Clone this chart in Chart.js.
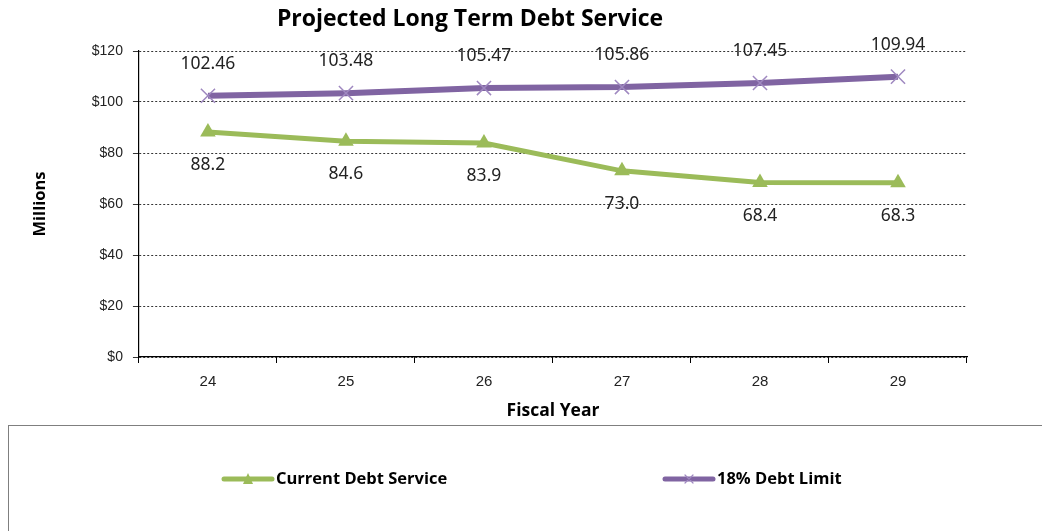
<!DOCTYPE html>
<html>
<head>
<meta charset="utf-8">
<script src="https://cdn.jsdelivr.net/npm/chart.js@4"></script>
<style>
  html, body { margin: 0; padding: 0; background: #fff; }
  #wrap { width: 1042px; height: 531px; }
</style>
</head>
<body>
<div id="wrap"><canvas id="debtChart" width="1042" height="531"></canvas></div>
<script>
// Fiscal years and series values (millions)
const years = ["24", "25", "26", "27", "28", "29"];
const currentDebt = [88.2, 84.6, 83.9, 73.0, 68.4, 68.3];
const debtLimit = [102.46, 103.48, 105.47, 105.86, 107.45, 109.94];
const yTicks = [0, 20, 40, 60, 80, 100, 120];

const green = "#9BBB59";
const purple = "#8064A2";
const labelFont = "17.5px 'Noto Sans', sans-serif";

// value labels above / below the points, title and boxed legend
const extras = {
    id: "extras",
    afterDatasetsDraw(chart) {
        const ctx = chart.ctx;
        ctx.save();
        ctx.font = labelFont;
        ctx.fillStyle = "#222";
        ctx.textAlign = "center";
        ctx.textBaseline = "middle";
        chart.getDatasetMeta(0).data.forEach((pt, i) => {
            ctx.fillText(currentDebt[i].toFixed(1), pt.x, pt.y + 33);
        });
        chart.getDatasetMeta(1).data.forEach((pt, i) => {
            ctx.fillText(debtLimit[i].toFixed(2), pt.x, pt.y - 32);
        });

        // title
        ctx.font = "bold 23px 'Open Sans', sans-serif";
        ctx.fillStyle = "#000";
        ctx.fillText("Projected Long Term Debt Service", 470, 19);

        // legend box
        ctx.strokeStyle = "#7f7f7f";
        ctx.lineWidth = 1;
        ctx.strokeRect(8.5, 425.5, 1040, 110);

        const items = [
            { x: 224, color: green, text: "Current Debt Service", marker: "tri" },
            { x: 665, color: purple, text: "18% Debt Limit", marker: "x" }
        ];
        items.forEach(it => {
            const y = 479;
            ctx.strokeStyle = it.color;
            ctx.lineWidth = 5;
            ctx.lineCap = "round";
            ctx.beginPath();
            ctx.moveTo(it.x, y);
            ctx.lineTo(it.x + 48, y);
            ctx.stroke();
            const cx = it.x + 24;
            if (it.marker === "tri") {
                ctx.fillStyle = it.color;
                ctx.beginPath();
                ctx.moveTo(cx, y - 6);
                ctx.lineTo(cx + 5, y + 5);
                ctx.lineTo(cx - 5, y + 5);
                ctx.closePath();
                ctx.fill();
            } else {
                ctx.strokeStyle = "#9f88c0";
                ctx.lineWidth = 1.2;
                ctx.beginPath();
                ctx.moveTo(cx - 4, y - 4); ctx.lineTo(cx + 4, y + 4);
                ctx.moveTo(cx + 4, y - 4); ctx.lineTo(cx - 4, y + 4);
                ctx.stroke();
            }
            ctx.fillStyle = "#000";
            ctx.textAlign = "left";
            ctx.font = "bold 16.5px 'Open Sans', sans-serif";
            ctx.fillText(it.text, it.x + 52, y);
        });
        ctx.restore();
    }
};

new Chart(document.getElementById("debtChart"), {
    type: "line",
    data: {
        labels: years,
        datasets: [{
            label: "Current Debt Service",
            data: currentDebt,
            borderColor: green,
            backgroundColor: green,
            borderWidth: 5,
            pointStyle: "triangle",
            pointRadius: 9,
            pointBorderWidth: 0,
            pointBackgroundColor: green,
            tension: 0
        }, {
            label: "18% Debt Limit",
            data: debtLimit,
            borderColor: purple,
            backgroundColor: purple,
            borderWidth: 6,
            pointStyle: "crossRot",
            pointRadius: 10,
            pointBorderWidth: 1.5,
            pointBorderColor: "#9f88c0",
            tension: 0
        }]
    },
    options: {
        responsive: false,
        animation: false,
        layout: { padding: { top: 51, left: 26, right: 75, bottom: 105 } },
        plugins: {
            legend: { display: false },
            tooltip: { enabled: false }
        },
        scales: {
            x: {
                offset: true,
                grid: {
                    offset: true,
                    drawOnChartArea: false,
                    tickLength: 6,
                    color: "#000"
                },
                border: { color: "#000", width: 1.2 },
                ticks: {
                    color: "#222",
                    font: { family: "'Liberation Sans', Arial, sans-serif", size: 15 },
                    padding: 10
                },
                title: {
                    display: true,
                    text: "Fiscal Year",
                    color: "#000",
                    font: { family: "'Open Sans', sans-serif", size: 17.5, weight: "bold" },
                    padding: { top: 0 }
                }
            },
            y: {
                min: 0,
                max: 120,
                afterBuildTicks: axis => { axis.ticks = yTicks.map(v => ({ value: v })); },
                grid: {
                    color: "#000",
                    lineWidth: 0.8,
                    tickLength: 6,
                    tickBorderDash: [],
                    tickColor: "#000"
                },
                border: { color: "#000", width: 1.2, dash: [2, 2] },
                ticks: {
                    color: "#222",
                    font: { family: "'Liberation Sans', Arial, sans-serif", size: 14 },
                    padding: 10,
                    callback: v => "$" + v
                },
                title: {
                    display: true,
                    text: "Millions",
                    color: "#000",
                    font: { family: "'Open Sans', sans-serif", size: 16.5, weight: "bold" },
                    padding: { bottom: 32 }
                }
            }
        }
    },
    plugins: [extras]
});
</script>
</body>
</html>
